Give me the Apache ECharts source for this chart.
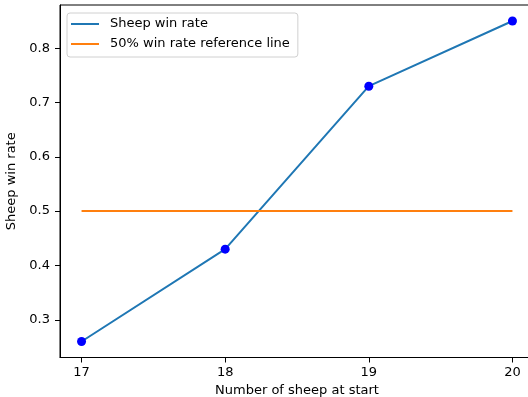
<!DOCTYPE html>
<html><head><meta charset="utf-8">
<script src="https://cdn.jsdelivr.net/npm/echarts@6/dist/echarts.min.js"></script>
<style>html,body{margin:0;padding:0;background:#fff}#c{width:528px;height:397px}</style>
</head><body><div id="c"></div>
<script>
const sheepCounts = [17, 18, 19, 20];
const winRates = [0.26, 0.43, 0.73, 0.85];
const referenceRate = [0.5, 0.5, 0.5, 0.5];
const xTicks = [17, 18, 19, 20];
const yTicks = [0.3, 0.4, 0.5, 0.6, 0.7, 0.8];

const font = 'DejaVu Sans';
const fs = 13;
const chart = echarts.init(document.getElementById('c'), null, {renderer: 'canvas'});
const pair = (xs, ys) => xs.map((x, i) => [x, ys[i]]);
chart.setOption({
  animation: false,
  backgroundColor: '#fff',
  textStyle: {fontFamily: font},
  grid: {left: 60, top: 5, width: 474, height: 352.5, show: true, borderColor: '#000', borderWidth: 1,
         backgroundColor: 'transparent', containLabel: false, outerBoundsMode: 'none'},
  xAxis: {
    type: 'value', min: 16.85, max: 20.15,
    name: 'Number of sheep at start', nameLocation: 'middle', nameGap: 27,
    nameTextStyle: {fontFamily: font, fontSize: fs, color: '#000'},
    axisLine: {show: true, lineStyle: {color: '#000', width: 1}},
    axisTick: {show: true, customValues: xTicks, length: 5, lineStyle: {color: '#000', width: 1}},
    axisLabel: {customValues: xTicks, fontFamily: font, fontSize: fs, color: '#000', margin: 9, formatter: v => String(v)},
    splitLine: {show: false}
  },
  yAxis: {
    type: 'value', min: 0.2305, max: 0.8795,
    name: 'Sheep win rate', nameLocation: 'middle', nameGap: 36, nameRotate: 90,
    nameTextStyle: {fontFamily: font, fontSize: fs, color: '#000'},
    axisLine: {show: true, lineStyle: {color: '#000', width: 1}},
    axisTick: {show: true, customValues: yTicks, length: 5, lineStyle: {color: '#000', width: 1}},
    axisLabel: {customValues: yTicks, fontFamily: font, fontSize: fs, color: '#000', margin: 10, formatter: v => v.toFixed(1)},
    splitLine: {show: false}
  },
  legend: {
    orient: 'vertical', left: 67, top: 13,
    padding: [4, 8, 6, 4],
    backgroundColor: 'rgba(255,255,255,0.8)', borderColor: '#d0d0d0', borderWidth: 1, borderRadius: 3,
    itemWidth: 28, itemHeight: 2, itemGap: 6,
    icon: 'rect',
    textStyle: {fontFamily: font, fontSize: fs, color: '#000', lineHeight: 14, padding: [0, 0, 0, 6]},
    data: ['Sheep win rate', '50% win rate reference line']
  },
  series: [
    {name: 'Sheep win rate', type: 'line', data: pair(sheepCounts, winRates), showSymbol: false, symbol: 'none',
     lineStyle: {color: '#1f77b4', width: 2}, itemStyle: {color: '#1f77b4'}, z: 2},
    {name: 'markers', type: 'scatter', data: pair(sheepCounts, winRates), symbol: 'circle', symbolSize: 9,
     itemStyle: {color: '#0000ff', opacity: 1}, z: 3},
    {name: '50% win rate reference line', type: 'line', data: pair(sheepCounts, referenceRate), showSymbol: false, symbol: 'none',
     lineStyle: {color: '#ff7f0e', width: 2}, itemStyle: {color: '#ff7f0e'}, z: 2}
  ]
});
</script></body></html>
